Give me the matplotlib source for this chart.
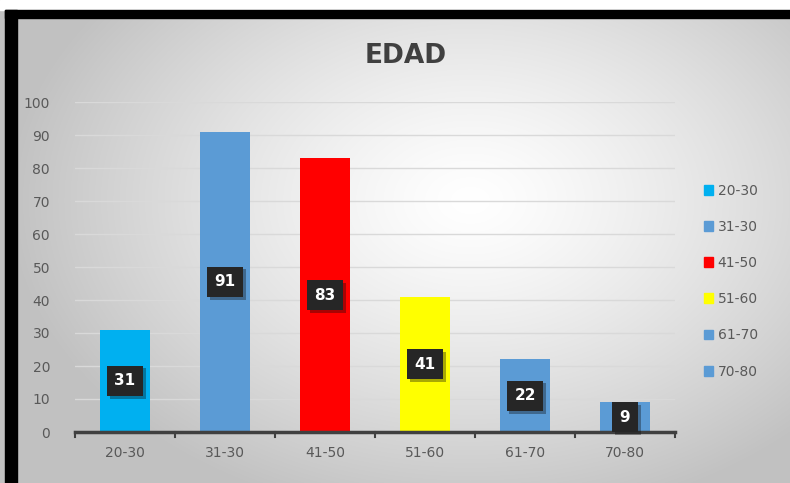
import numpy as np
import matplotlib.pyplot as plt
from matplotlib.patches import Rectangle
import matplotlib.patheffects as pe

# datos
categorias = ["20-30", "31-30", "41-50", "51-60", "61-70", "70-80"]
valores = [31, 91, 83, 41, 22, 9]
colores = ["#00b0f0", "#5b9bd5", "#ff0000", "#ffff00", "#5b9bd5", "#5b9bd5"]

fig = plt.figure(figsize=(7.9, 4.83), dpi=100)

# fondo con degradado radial
bg = fig.add_axes([0, 0, 1, 1])
yy, xx = np.mgrid[0:483, 0:790]
r = np.sqrt(((xx - 470) / 400.0) ** 2 + ((yy - 200) / 280.0) ** 2)
g = np.clip(1.0 - 0.2 * r ** 1.3, 0.76, 1.0)
bg.imshow(np.dstack([g, g, g]), extent=[0, 790, 483, 0], aspect="auto")
bg.set_xlim(0, 790)
bg.set_ylim(483, 0)
bg.axis("off")
# marco negro
bg.add_patch(Rectangle((0, 0), 790, 10, color="white"))
bg.add_patch(Rectangle((5, 10), 785, 8, color="black"))
bg.add_patch(Rectangle((5, 10), 12, 473, color="black"))

ax = fig.add_axes([75 / 790, 1 - 432 / 483, 600 / 790, 330 / 483])
ax.patch.set_alpha(0)
x = np.arange(len(categorias))
bars = ax.bar(x, valores, width=0.5, color=colores, zorder=3)
ax.set_xlim(-0.5, 5.5)
ax.set_ylim(0, 100)
ax.set_yticks(range(0, 101, 10))
ax.set_xticks(x)
ax.set_xticklabels(categorias)
ax.grid(axis="y", color="#d9d9d9", linewidth=1, zorder=0)
for s in ["top", "right", "left"]:
    ax.spines[s].set_visible(False)
ax.spines["bottom"].set_color("#404040")
ax.spines["bottom"].set_linewidth(2.5)
ax.spines["bottom"].set_zorder(4)
ax.tick_params(axis="y", length=0, labelsize=10, labelcolor="#595959", pad=18)
ax.tick_params(axis="x", length=0, labelsize=10, labelcolor="#595959", pad=10)
for xv in np.arange(-0.5, 6, 1):
    ax.plot([xv, xv], [0, -1.5], color="#404040", lw=1.5, clip_on=False, zorder=4)

for xi, v in zip(x, valores):
    ax.text(xi, v / 2, str(v), ha="center", va="center", color="white",
            fontsize=11, fontweight="bold", zorder=5,
            bbox=dict(boxstyle="square,pad=0.5", fc="#262626", ec="none",
                      path_effects=[pe.withSimplePatchShadow(offset=(2, -2),
                                                             alpha=0.35)]))

fig.text(0.513, 0.885, "EDAD", ha="center", va="center", fontsize=19,
         fontweight="bold", color="#404040")

# leyenda
handles = [Rectangle((0, 0), 1, 1, color=c) for c in colores]
leg = fig.legend(handles, categorias, loc="center left",
                 bbox_to_anchor=(0.875, 0.418), frameon=False, fontsize=10,
                 handlelength=0.7, handleheight=0.7, handletextpad=0.3,
                 labelspacing=1.6)
for t in leg.get_texts():
    t.set_color("#595959")

fig.savefig("out.png", dpi=100)
